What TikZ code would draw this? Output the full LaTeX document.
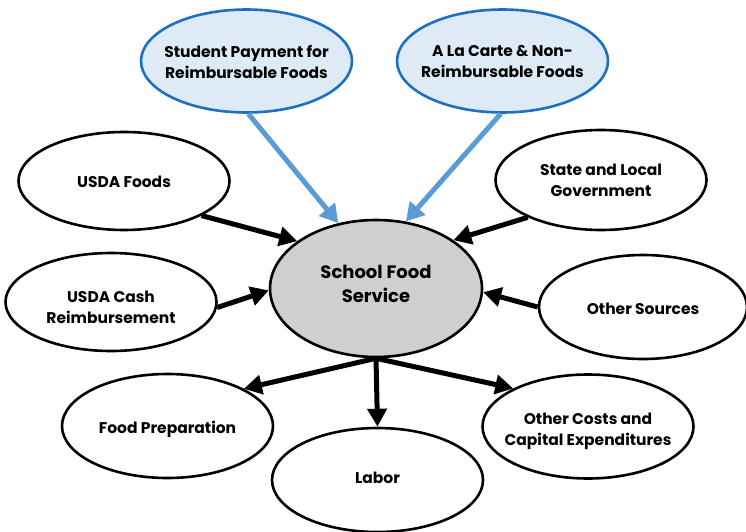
\documentclass[tikz,border=0pt]{standalone}
\usepackage{fontspec}
\setmainfont{Poppins}
\usetikzlibrary{shapes.geometric,arrows.meta}
\definecolor{bluefill}{HTML}{DEEBF7}
\definecolor{blueline}{HTML}{1F70C1}
\definecolor{bluearrow}{HTML}{5B9BD5}
\definecolor{greyfill}{HTML}{D0CECE}
\tikzset{
  oval/.style={ellipse, draw=black, line width=2.6pt, fill=white, inner sep=0pt,
    minimum width=211pt, minimum height=100pt},
  blueoval/.style={oval, draw=blueline, fill=bluefill, minimum height=103pt},
  hub/.style={oval, fill=greyfill, minimum width=212pt, minimum height=137pt},
  lbl/.style={inner sep=0pt, align=center, font=\fontsize{15.5}{21}\selectfont\bfseries},
  hublbl/.style={lbl, font=\fontsize{18}{23.5}\selectfont\bfseries},
  blackarrow/.style={line width=5pt, -{Triangle[length=18pt,width=19pt]}, black},
  bluearr/.style={line width=5pt, -{Triangle[length=18pt,width=20pt]}, bluearrow}
}
\begin{document}
\begin{tikzpicture}[x=1pt,y=-1pt]
\useasboundingbox (0,0) rectangle (746,532);
\clip (0,0) rectangle (746,532);
% shapes
\node[blueoval] (stud) at (246.5,61) {};
\node[blueoval] (alc) at (502.5,61) {};
\node[oval, minimum height=98pt] (usda) at (124,181) {};
\node[oval, minimum height=98pt] (cash) at (111,302) {};
\node[hub] (sfs) at (376,288.5) {};
\node[oval] (state) at (601,180) {};
\node[oval, minimum width=208pt, minimum height=104pt] (other) at (643,307) {};
\node[oval, minimum height=104pt] (food) at (167.5,426) {};
\node[oval, minimum height=104pt] (labor) at (377.5,480) {};
\node[oval, minimum height=104pt] (costs) at (588,426.5) {};
% texts
\node[lbl] (studt) at (246.5,62) {Student Payment for\\Reimbursable Foods};
\node[lbl] (alct) at (502.5,62) {A La Carte \& Non-\\Reimbursable Foods};
\node[lbl] (usdat) at (124,182) {USDA Foods};
\node[lbl] (casht) at (111,307) {USDA Cash\\Reimbursement};
\node[hublbl] (sfst) at (376,284) {School Food\\Service};
\node[lbl] (statet) at (601,180) {State and Local\\Government};
\node[lbl] (othert) at (643,308.5) {Other Sources};
\node[lbl] (foodt) at (167.5,429.5) {Food Preparation};
\node[lbl] (labort) at (377.5,478) {Labor};
\node[lbl] (costst) at (588,431) {Other Costs and\\Capital Expenditures};
% connectors
\draw[bluearr] (stud.-88) -- (sfs.120);
\draw[bluearr] (alc.-92) -- (sfs.66);
\draw[blackarrow] (usda.-24) -- (sfs.149);
\draw[blackarrow] (cash.-3) -- (sfs.181);
\draw[blackarrow] (state.-153) -- (sfs.32);
\draw[blackarrow] (other.180) -- (sfs.-2);
\draw[blackarrow] (sfs.south) -- (food.26);
\draw[blackarrow] (sfs.south) -- (labor.north);
\draw[blackarrow] (sfs.south) -- (costs.153);
\end{tikzpicture}
\end{document}
